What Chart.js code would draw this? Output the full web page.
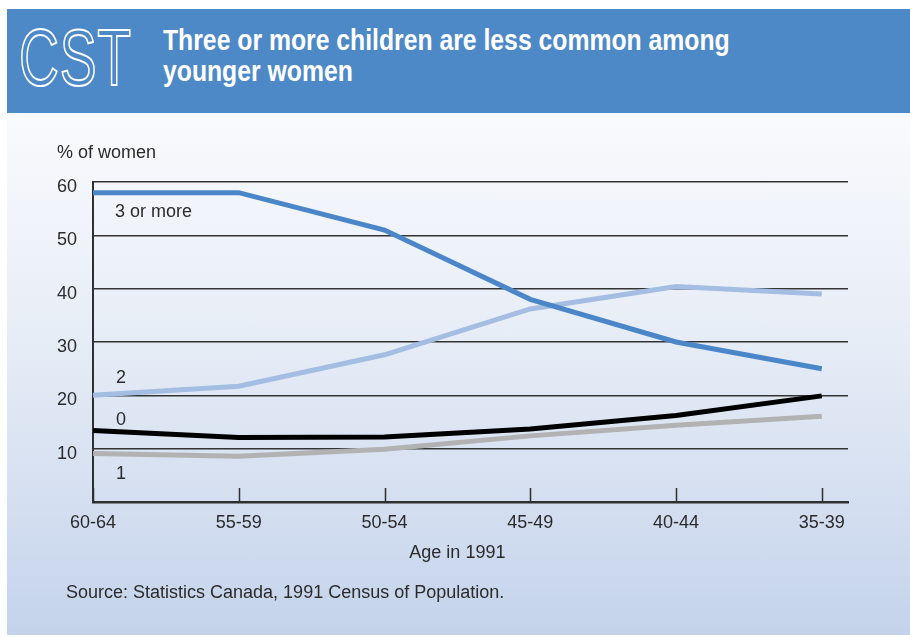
<!DOCTYPE html>
<html>
<head>
<meta charset="utf-8">
<script src="https://cdn.jsdelivr.net/npm/chart.js@4/dist/chart.umd.min.js"></script>
<style>
  html, body { margin: 0; padding: 0; background: #ffffff; }
  #page { position: relative; width: 910px; height: 637px; overflow: hidden; background: #ffffff; }
  #header { position: absolute; left: 7px; top: 9px; width: 903px; height: 104px; background: #4e89c7; }
  #panel { position: absolute; left: 7px; top: 113px; width: 903px; height: 522px;
           background: linear-gradient(to bottom, #f9fafd 0%, #e6ecf6 45%, #c4d3eb 100%); }
  #logo { position: absolute; left: 12px; top: 9px; font-family: "Liberation Sans", Arial, sans-serif;
          font-size: 79px; line-height: 1; color: transparent; -webkit-text-stroke: 2px #ffffff;
          transform: scaleX(0.70); transform-origin: left top; letter-spacing: 1px; white-space: nowrap; }
  #title { position: absolute; left: 156px; top: 15px; font-family: "Liberation Sans", Arial, sans-serif;
           font-weight: bold; font-size: 30px; line-height: 31px; color: #ffffff; white-space: nowrap;
           transform: scaleX(0.825); transform-origin: left top; }
  #chart { position: absolute; left: 0; top: 0; }
</style>
</head>
<body>
<div id="page">
  <div id="header">
    <div id="logo">CST</div>
    <div id="title">Three or more children are less common among<br>younger women</div>
  </div>
  <div id="panel"></div>
  <canvas id="chart" width="910" height="637"></canvas>
</div>
<script>
// Age groups of women in 1991, oldest first
const ageGroups = ["60-64", "55-59", "50-54", "45-49", "40-44", "35-39"];
const yTicks = [10, 20, 30, 40, 50, 60];

// Share of women (%) by number of children
const threeOrMore = [58, 58, 51, 38, 30, 25];
const twoChildren = [20, 21.7, 27.6, 36.2, 40.4, 39];
const noChildren = [13.4, 12.1, 12.2, 13.7, 16.2, 19.9];
const oneChild = [9.1, 8.6, 9.9, 12.4, 14.4, 16.1];

const seriesNames = ["3 or more", "2", "0", "1"];

const toPoints = vals => vals.map((v, i) => ({ x: i, y: v }));

const textColor = "#2b2b2b";
const axisColor = "#2f2f2f";

// Series name labels placed near the first point of each line
const labelPlacement = [
  { dx: 22, dy: 24 },
  { dx: 23, dy: -12 },
  { dx: 23, dy: -6 },
  { dx: 23, dy: 26 }
];

const annotations = {
  id: "annotations",
  afterDraw(chart) {
    const { ctx, chartArea, scales } = chart;
    const xs = scales.x;
    ctx.save();
    // short tick marks rising from the age axis
    ctx.strokeStyle = axisColor;
    ctx.lineWidth = 1.5;
    ageGroups.forEach((_, i) => {
      const px = Math.round(xs.getPixelForValue(i)) + 0.5;
      ctx.beginPath();
      ctx.moveTo(px, chartArea.bottom - 14);
      ctx.lineTo(px, chartArea.bottom);
      ctx.stroke();
    });
    ctx.fillStyle = textColor;
    ctx.font = "18px 'Liberation Sans', Arial, sans-serif";
    ctx.textBaseline = "alphabetic";
    // series names
    ctx.textAlign = "left";
    chart.data.datasets.forEach((ds, d) => {
      const meta = chart.getDatasetMeta(d);
      const p = meta.data[0];
      const pl = labelPlacement[d];
      ctx.fillText(ds.label, p.x + pl.dx, p.y + pl.dy);
    });
    // y unit
    ctx.fillText("% of women", 57, 158);
    // x axis title centred on the age groups
    ctx.textAlign = "center";
    const mid = (xs.getPixelForValue(0) + xs.getPixelForValue(ageGroups.length - 1)) / 2;
    ctx.fillText("Age in 1991", mid, 558);
    // source note
    ctx.textAlign = "left";
    ctx.fillText("Source: Statistics Canada, 1991 Census of Population.", 66, 598);
    ctx.restore();
  }
};

Chart.defaults.font.family = "'Liberation Sans', Arial, sans-serif";
Chart.defaults.font.size = 18;
Chart.defaults.color = textColor;

new Chart(document.getElementById("chart"), {
  type: "line",
  data: {
    datasets: [
      { label: seriesNames[0], data: toPoints(threeOrMore), borderColor: "#4a86c8", order: 2 },
      { label: seriesNames[1], data: toPoints(twoChildren), borderColor: "#a3bde3", order: 3 },
      { label: seriesNames[2], data: toPoints(noChildren), borderColor: "#000000", order: 1 },
      { label: seriesNames[3], data: toPoints(oneChild), borderColor: "#b2b2b2", order: 4 }
    ].map(ds => Object.assign(ds, { borderWidth: 5, pointRadius: 0, tension: 0, fill: false, clip: false }))
  },
  options: {
    responsive: false,
    devicePixelRatio: 1,
    animation: false,
    layout: { padding: { left: 0, top: 182, right: 62, bottom: 0 } },
    plugins: { legend: { display: false }, tooltip: { enabled: false } },
    scales: {
      x: {
        type: "linear",
        min: 0,
        max: 5.18,
        afterBuildTicks(scale) { scale.ticks = ageGroups.map((_, i) => ({ value: i })); },
        afterFit(scale) { scale.height = 135; },
        ticks: {
          callback: v => ageGroups[v],
          padding: 10,
          maxRotation: 0,
          autoSkip: false,
          color: textColor
        },
        grid: { display: false, drawTicks: false },
        border: { display: true, color: axisColor, width: 2.5 }
      },
      y: {
        min: 0,
        max: 60,
        afterBuildTicks(scale) { scale.ticks = [0].concat(yTicks).map(v => ({ value: v })); },
        afterFit(scale) { scale.width = 93; },
        ticks: {
          callback: v => (v === 0 ? "" : String(v)),
          padding: 16,
          labelOffset: 5,
          color: textColor
        },
        grid: {
          drawTicks: false,
          color: ctx => (ctx.tick && ctx.tick.value === 0 ? "rgba(0,0,0,0)" : "#333333"),
          lineWidth: 1.5
        },
        border: { display: true, color: axisColor, width: 2 }
      }
    }
  },
  plugins: [annotations]
});
</script>
</body>
</html>
